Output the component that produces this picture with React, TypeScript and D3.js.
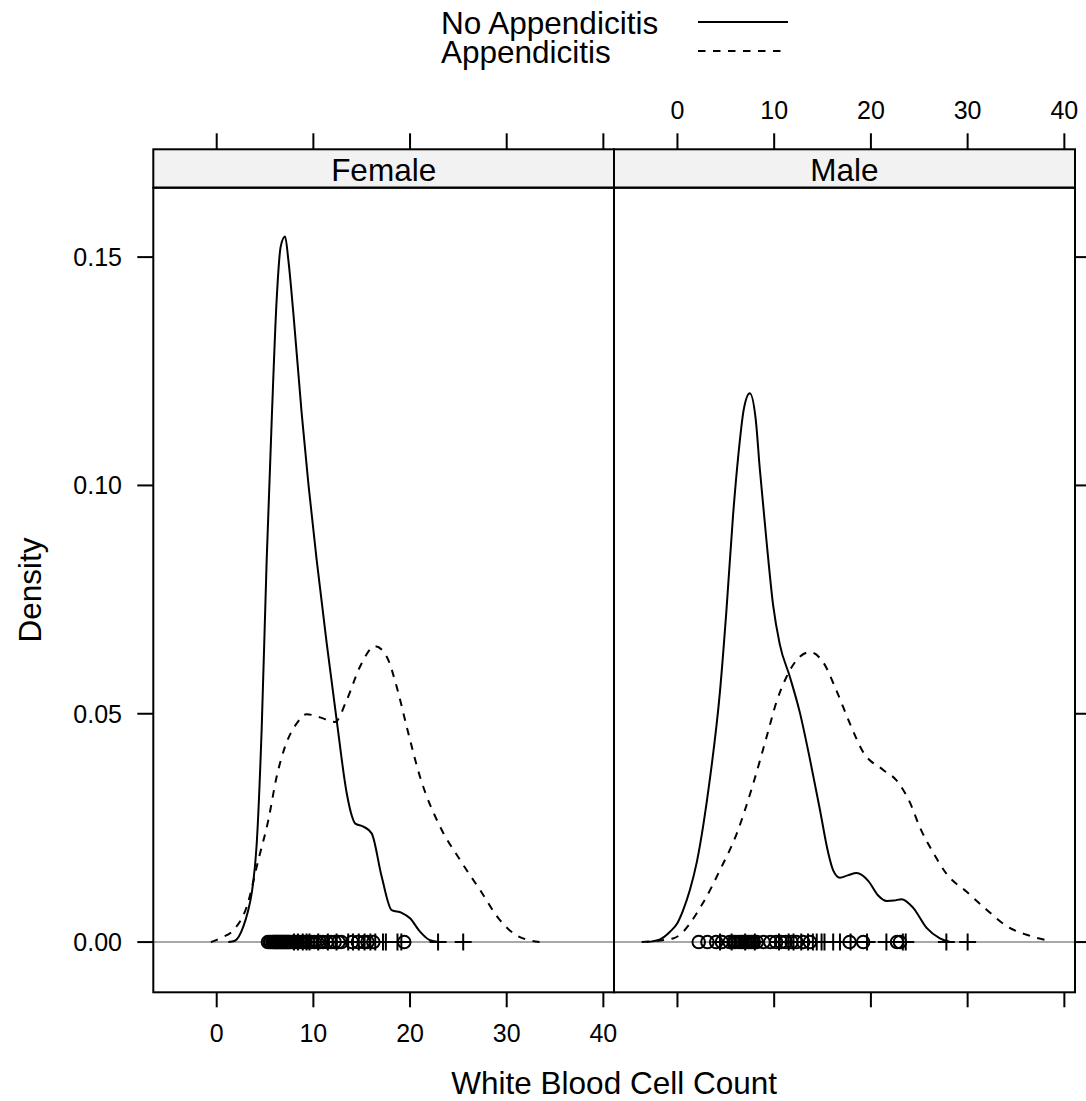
import React from "react";
import * as d3 from "d3";

const W = 1086;
const H = 1101;
const FONT = "'Liberation Sans', Arial, Helvetica, sans-serif";

const panelNames = ["Female", "Male"];
const groupNames = ["No Appendicitis", "Appendicitis"];
const xTicks = [0, 10, 20, 30, 40];
const yTicks = [0, 0.05, 0.1, 0.15];
const yTickLabels = ["0.00", "0.05", "0.10", "0.15"];

// density curves [WBC, density]
const femaleNoApp: [number, number][] = [
  [1.2, 0], [1.89, 0.0003], [2.75, 0.0034], [3.2, 0.0065], [3.62, 0.0107], [4.14, 0.0216],
  [4.66, 0.0472], [5.17, 0.0837], [5.69, 0.1143], [6.2, 0.1406], [6.62, 0.1523], [7.07, 0.1545],
  [7.41, 0.1494], [7.93, 0.1377], [8.79, 0.1158], [9.5, 0.1], [10.34, 0.0837], [11.38, 0.0654],
  [12.41, 0.0486], [13.45, 0.0326], [14.0, 0.0275], [14.31, 0.026], [15.17, 0.0253], [16.03, 0.0238],
  [17.07, 0.0143], [18.1, 0.007], [19.14, 0.0064], [20.0, 0.0052], [21.03, 0.0023], [22.07, 0.0004], [23.0, 0],
];
const femaleApp: [number, number][] = [
  [-0.6, 0], [0.5, 0.001], [1.72, 0.0026], [3.1, 0.0077], [4.31, 0.018], [5.34, 0.0267], [6.2, 0.0362],
  [7.07, 0.0428], [8.28, 0.0479], [9.31, 0.0499], [10.69, 0.0492], [12.24, 0.0482], [13.45, 0.053],
  [14.82, 0.0603], [16.38, 0.0648], [17.59, 0.0625], [18.62, 0.0559], [19.65, 0.0472], [21.03, 0.0362],
  [23.1, 0.0253], [25.17, 0.018], [27.24, 0.0114], [29.3, 0.0048], [31.0, 0.0015], [33.4, 0],
];
const maleNoApp: [number, number][] = [
  [-3.2, 0], [-1.8, 0.0006], [-0.8, 0.0022], [0.0, 0.0042], [0.55, 0.0068], [1.3, 0.0115], [2.0, 0.0175],
  [2.7, 0.026], [3.34, 0.0355], [4.38, 0.0545], [5.07, 0.0728], [5.75, 0.0935], [6.27, 0.1061],
  [6.86, 0.1167], [7.48, 0.1202], [8.1, 0.1143], [8.51, 0.1037], [9.2, 0.088], [9.89, 0.0738],
  [10.58, 0.0652], [11.62, 0.0581], [12.65, 0.0503], [13.69, 0.0401], [14.72, 0.0291], [15.58, 0.0196],
  [16.1, 0.0157], [16.79, 0.0141], [17.6, 0.0146], [18.52, 0.0151], [19.72, 0.0134], [20.75, 0.0102],
  [21.62, 0.009], [22.4, 0.0091], [23.17, 0.0094], [24.37, 0.0075], [25.76, 0.0031], [27.13, 0.0008], [28.2, 0],
];
const maleApp: [number, number][] = [
  [-3.7, 0], [-0.45, 0.0008], [2.65, 0.0086], [4.38, 0.0157], [6.1, 0.0236], [7.82, 0.0346],
  [9.2, 0.0448], [10.24, 0.0526], [11.28, 0.0581], [12.65, 0.0625], [13.69, 0.0635], [15.06, 0.0613],
  [16.45, 0.055], [17.82, 0.0479], [19.2, 0.0416], [21.27, 0.0377], [22.65, 0.0354], [24.03, 0.0306],
  [25.07, 0.0251], [26.44, 0.0196], [27.83, 0.0149], [29.9, 0.011], [31.96, 0.0071], [34.03, 0.0035],
  [36.1, 0.0016], [38.17, 0.0004],
];

// rug values
const femaleNoAppPts = [
  5.3, 5.5, 5.6, 5.8, 5.9, 6.0, 6.1, 6.2, 6.3, 6.4, 6.5, 6.6, 6.7, 6.8, 6.9, 7.0, 7.1, 7.2, 7.3, 7.4,
  7.5, 7.6, 7.8, 7.9, 8.0, 8.2, 8.4, 8.6, 8.8, 9.0, 9.2, 9.5, 9.8, 10.1, 10.4, 10.7, 11.0, 11.4, 11.8,
  12.2, 12.6, 12.9, 14.0, 14.6, 15.2, 15.6, 16.2, 19.4,
];
const femaleAppPts = [
  8.0, 8.4, 8.9, 9.3, 9.6, 10.5, 11.5, 12.4, 13.6, 14.1, 14.7, 15.3, 15.9, 16.4, 17.2, 17.5, 18.7, 19.1, 22.9, 25.5,
];
const maleNoAppPts = [
  2.2, 3.1, 4.0, 4.6, 5.4, 5.8, 6.0, 6.3, 6.5, 6.7, 6.9, 7.1, 7.3, 7.5, 7.7, 7.9, 8.2, 8.9, 9.6, 10.2,
  10.7, 11.2, 11.8, 12.3, 13.0, 13.7, 17.8, 19.2, 22.7, 23.0,
];
const maleAppPts = [
  4.4, 5.6, 7.0, 8.0, 10.5, 11.5, 12.0, 12.8, 13.5, 14.0, 14.4, 14.9, 15.2, 16.1, 16.8, 17.9, 19.6,
  21.6, 23.3, 23.6, 27.8, 30.0,
];

const curves = [
  [femaleNoApp, femaleApp],
  [maleNoApp, maleApp],
];
const rugs = [
  [femaleNoAppPts, femaleAppPts],
  [maleNoAppPts, maleAppPts],
];

const panelX = [153.3, 614, 1075];
const plotTop = 187.7;
const plotBottom = 992.3;
const stripTop = 149.3;
const xDomain: [number, number] = [-6.56, 41.1];
const yDomain: [number, number] = [-0.011, 0.1652];

const MAIN = 31.5;
const TICKF = 25;
const LW = 2;
const DASH = "7.5,7.5";

export default function App() {
  const y = d3.scaleLinear().domain(yDomain).range([plotBottom, plotTop]);
  const xs = [0, 1].map((i) =>
    d3.scaleLinear().domain(xDomain).range([panelX[i], panelX[i + 1]])
  );

  return (
    <svg
      width={W}
      height={H}
      style={{ position: "absolute", left: 0, top: 0, background: "#fff" }}
      fontFamily={FONT}
    >
      <defs>
        {[0, 1].map((i) => (
          <clipPath id={`clip${i}`} key={i}>
            <rect x={panelX[i]} y={plotTop} width={panelX[i + 1] - panelX[i]} height={plotBottom - plotTop} />
          </clipPath>
        ))}
      </defs>

      {/* legend */}
      <g>
        {groupNames.map((g, i) => {
          const cy = 23 + i * 29;
          return (
            <g key={g}>
              <text x={441} y={cy} dominantBaseline="central" fontSize={MAIN} fill="#000">
                {g}
              </text>
              <line
                x1={698}
                x2={788}
                y1={cy - 1}
                y2={cy - 1}
                stroke="#000"
                strokeWidth={LW}
                strokeDasharray={i === 1 ? DASH : undefined}
              />
            </g>
          );
        })}
      </g>

      {[0, 1].map((i) => {
        const x = xs[i];
        const line = d3
          .line<[number, number]>()
          .x((d) => x(d[0]))
          .y((d) => y(d[1]))
          .curve(d3.curveMonotoneX);
        return (
          <g key={i}>
            {/* strip */}
            <rect
              x={panelX[i]}
              y={stripTop}
              width={panelX[i + 1] - panelX[i]}
              height={plotTop - stripTop}
              fill="#f2f2f2"
              stroke="#000"
              strokeWidth={2}
            />
            <text
              x={(panelX[i] + panelX[i + 1]) / 2}
              y={(stripTop + plotTop) / 2 + 1}
              textAnchor="middle"
              dominantBaseline="central"
              fontSize={MAIN}
            >
              {panelNames[i]}
            </text>

            <g clipPath={`url(#clip${i})`}>
              <line x1={panelX[i]} x2={panelX[i + 1]} y1={y(0)} y2={y(0)} stroke="#a8a8a8" strokeWidth={2} />
              {rugs[i].map((pts, g) =>
                pts.map((v, k) =>
                  g === 0 ? (
                    <circle key={`c${g}-${k}`} cx={x(v)} cy={y(0)} r={6.3} fill="none" stroke="#000" strokeWidth={2} />
                  ) : (
                    <path
                      key={`p${g}-${k}`}
                      d={`M${x(v) - 8.5},${y(0)}H${x(v) + 8.5}M${x(v)},${y(0) - 8.5}V${y(0) + 8.5}`}
                      stroke="#000"
                      strokeWidth={2}
                      fill="none"
                    />
                  )
                )
              )}
              {curves[i].map((c, g) => (
                <path
                  key={`l${g}`}
                  d={line(c) || ""}
                  fill="none"
                  stroke="#000"
                  strokeWidth={LW}
                  strokeDasharray={g === 1 ? DASH : undefined}
                />
              ))}
            </g>

            {/* panel border */}
            <rect
              x={panelX[i]}
              y={plotTop}
              width={panelX[i + 1] - panelX[i]}
              height={plotBottom - plotTop}
              fill="none"
              stroke="#000"
              strokeWidth={2}
            />

            {/* top ticks */}
            {xTicks.map((t) => (
              <line key={`tt${t}`} x1={x(t)} x2={x(t)} y1={stripTop} y2={stripTop - 16} stroke="#000" strokeWidth={2} />
            ))}
            {/* bottom ticks */}
            {xTicks.map((t) => (
              <line key={`bt${t}`} x1={x(t)} x2={x(t)} y1={plotBottom} y2={plotBottom + 15} stroke="#000" strokeWidth={2} />
            ))}
            {i === 0 &&
              xTicks.map((t) => (
                <text key={`bl${t}`} x={x(t)} y={1033} textAnchor="middle" dominantBaseline="central" fontSize={TICKF}>
                  {t}
                </text>
              ))}
            {i === 1 &&
              xTicks.map((t) => (
                <text key={`tl${t}`} x={x(t)} y={110} textAnchor="middle" dominantBaseline="central" fontSize={TICKF}>
                  {t}
                </text>
              ))}
          </g>
        );
      })}

      {/* y axis left */}
      {yTicks.map((t, k) => (
        <g key={`y${t}`}>
          <line x1={panelX[0]} x2={panelX[0] - 16} y1={y(t)} y2={y(t)} stroke="#000" strokeWidth={2} />
          <text x={122} y={y(t)} textAnchor="end" dominantBaseline="central" fontSize={TICKF}>
            {yTickLabels[k]}
          </text>
          <line x1={panelX[2]} x2={panelX[2] + 16} y1={y(t)} y2={y(t)} stroke="#000" strokeWidth={2} />
        </g>
      ))}

      <text
        transform={`translate(30,${(plotTop + plotBottom) / 2}) rotate(-90)`}
        textAnchor="middle"
        dominantBaseline="central"
        fontSize={MAIN}
      >
        Density
      </text>
      <text x={(panelX[0] + panelX[2]) / 2} y={1083} textAnchor="middle" dominantBaseline="central" fontSize={MAIN}>
        White Blood Cell Count
      </text>
    </svg>
  );
}
